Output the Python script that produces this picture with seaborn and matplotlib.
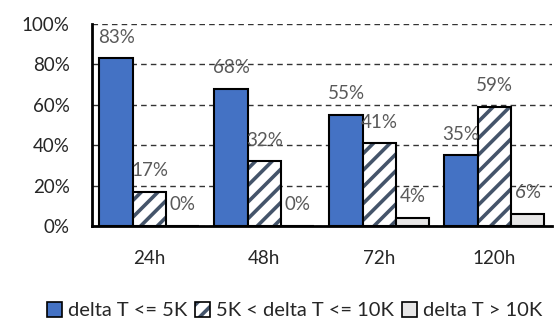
import numpy as np
import pandas as pd
import matplotlib
matplotlib.use('Agg')
import matplotlib.pyplot as plt
import matplotlib.colors as mcolors
from matplotlib.patches import Patch
import seaborn as sns

hours = ['24h', '48h', '72h', '120h']
series = ['delta T <= 5K', '5K < delta T <= 10K', 'delta T > 10K']
low = [83, 68, 55, 35]
mid = [17, 32, 41, 59]
high = [0, 0, 4, 6]

colors = ['#4472C4', '#FFFFFF', '#E7E6E6']
hatch_col = '#44546A'

df = pd.DataFrame({
    'hour': hours * 3,
    'group': [series[0]] * 4 + [series[1]] * 4 + [series[2]] * 4,
    'value': low + mid + high,
})

sns.set_style('white')
plt.rcParams['font.family'] = ['Lato', 'DejaVu Sans']
plt.rcParams['hatch.linewidth'] = 2.6

fig = plt.figure(figsize=(5.54, 3.2), dpi=100)
ax = fig.add_axes([0.166, 0.294, 0.830, 0.631])

sns.barplot(data=df, x='hour', y='value', hue='group', palette=colors,
            saturation=1, width=0.87, edgecolor='black', linewidth=1.5,
            legend=False, ax=ax)

for p in ax.containers[1]:
    p.set_hatch('//')
    p._hatch_color = mcolors.to_rgba(hatch_col)

for c in ax.containers:
    ax.bar_label(c, fmt='%d%%', padding=9, color='#595959', fontsize=13.5)

ax.set_ylim(0, 100)
ax.set_xlim(-0.5, 3.5)
ax.set_yticks([0, 20, 40, 60, 80, 100])
ax.set_yticklabels([f'{v}%' for v in range(0, 101, 20)], fontsize=13.5)
ax.tick_params(axis='x', labelsize=13.5, pad=17, length=0)
ax.tick_params(axis='y', pad=16, length=0)
ax.set_xlabel('')
ax.set_ylabel('')
ax.yaxis.grid(True, linestyle=(0, (4, 3)), color='#333333', linewidth=1)
ax.set_axisbelow(True)
for s in ['top', 'right']:
    ax.spines[s].set_visible(False)
for s in ['left', 'bottom']:
    ax.spines[s].set_linewidth(2)
    ax.spines[s].set_color('black')

handles = [Patch(facecolor=colors[0], edgecolor='black', linewidth=1.2),
           Patch(facecolor=colors[1], edgecolor='black', linewidth=1.2, hatch='//'),
           Patch(facecolor=colors[2], edgecolor='black', linewidth=1.2)]
leg = fig.legend(handles, series, loc='lower center', bbox_to_anchor=(0.532, -0.055),
                 ncol=3, frameon=False, fontsize=14.5, handlelength=0.75,
                 handleheight=0.75, handletextpad=0.3, columnspacing=0.4)
leg.legend_handles[1]._hatch_color = mcolors.to_rgba(hatch_col)

fig.savefig('out.png', dpi=100)
